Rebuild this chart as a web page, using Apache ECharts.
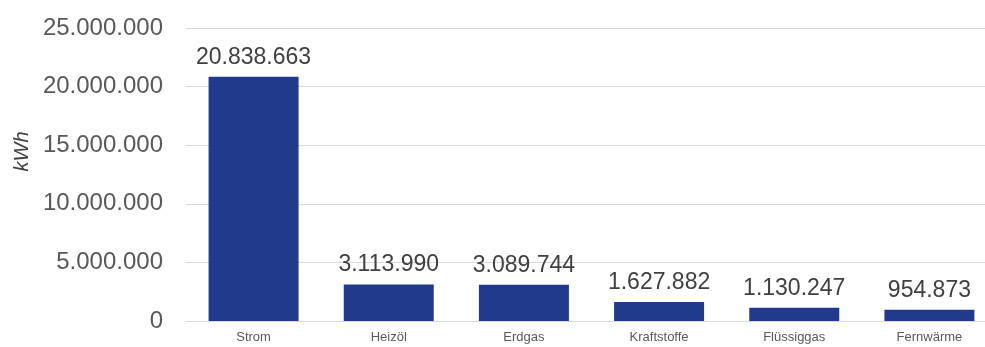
<!DOCTYPE html>
<html>
<head>
<meta charset="utf-8">
<script src="https://cdn.jsdelivr.net/npm/echarts@6/dist/echarts.min.js"></script>
<style>
html, body { margin: 0; padding: 0; background: #fff; }
#chart { width: 985px; height: 347px; }
</style>
</head>
<body>
<div id="chart"></div>
<script>
var categories = ["Strom", "Heizöl", "Erdgas", "Kraftstoffe", "Flüssiggas", "Fernwärme"];
var values = [20838663, 3113990, 3089744, 1627882, 1130247, 954873];
var unitLabel = "kWh";

// German thousand separator
function fmt(v) {
  return String(Math.round(v)).replace(/\B(?=(\d{3})+(?!\d))/g, ".");
}

var myChart = echarts.init(document.getElementById("chart"));

var option = {
  animation: false,
  grid: {
    left: 186,
    top: 28,
    width: 811,
    height: 293,
    containLabel: false,
    outerBoundsMode: "none"
  },
  xAxis: {
    type: "category",
    data: categories,
    axisLine: { show: true, lineStyle: { color: "#d9d9d9" } },
    axisTick: { show: false },
    axisLabel: {
      color: "#595959",
      fontSize: 13,
      fontFamily: "Liberation Sans, Arial",
      margin: 10
    }
  },
  yAxis: {
    type: "value",
    min: 0,
    max: 25000000,
    interval: 5000000,
    name: unitLabel,
    nameLocation: "middle",
    nameGap: 152,
    nameTextStyle: {
      color: "#404040",
      fontSize: 20,
      fontStyle: "italic",
      fontFamily: "Liberation Sans, Arial",
      padding: [0, 0, 0, 46]
    },
    axisLine: { show: false },
    axisTick: { show: false },
    splitLine: { lineStyle: { color: "#d9d9d9" } },
    axisLabel: {
      color: "#595959",
      fontSize: 24,
      fontFamily: "Liberation Sans, Arial",
      margin: 23,
      formatter: fmt
    }
  },
  series: [
    {
      type: "bar",
      data: values,
      barWidth: 90,
      itemStyle: { color: "#213a8c" },
      label: {
        show: true,
        position: "top",
        distance: 8,
        color: "#404040",
        fontSize: 23,
        fontFamily: "Liberation Sans, Arial",
        formatter: function (p) { return fmt(p.value); }
      }
    }
  ]
};

myChart.setOption(option);
window.onresize = myChart.resize;
</script>
</body>
</html>
